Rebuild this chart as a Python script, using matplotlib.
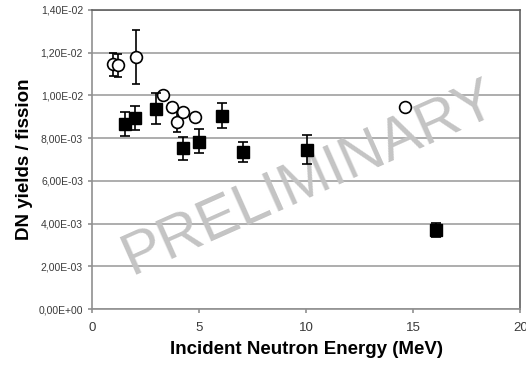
import matplotlib
matplotlib.use("Agg")
import matplotlib.pyplot as plt
from matplotlib.ticker import FuncFormatter

plt.rcParams['font.family'] = ['Liberation Sans', 'DejaVu Sans']

# filled squares: energy, yield, lower/upper error
sq_x = [1.55, 2.0, 3.0, 4.25, 5.0, 6.05, 7.05, 10.05, 16.05]
sq_y = [8.66e-3, 8.95e-3, 9.37e-3, 7.54e-3, 7.82e-3, 9.04e-3, 7.35e-3, 7.45e-3, 3.72e-3]
sq_lo = [0.56e-3, 0.57e-3, 0.71e-3, 0.56e-3, 0.52e-3, 0.56e-3, 0.47e-3, 0.66e-3, 0.35e-3]
sq_hi = [0.54e-3, 0.55e-3, 0.73e-3, 0.52e-3, 0.61e-3, 0.61e-3, 0.47e-3, 0.70e-3, 0.31e-3]

# open circles
ci_x = [1.0, 1.2, 2.05, 3.3, 3.75, 3.95, 4.25, 4.8, 14.6]
ci_y = [1.145e-2, 1.14e-2, 1.18e-2, 1.002e-2, 9.46e-3, 8.76e-3, 9.23e-3, 8.99e-3, 9.46e-3]
ci_err = [0.55e-3, 0.53e-3, 1.27e-3, 0.15e-3, 0.2e-3, 0.47e-3, 0.15e-3, 0.15e-3, 0.0]

fig = plt.figure(figsize=(5.26, 3.65), dpi=100)
ax = fig.add_axes([0.175, 0.153, 0.814, 0.82])

ax.errorbar(ci_x, ci_y, yerr=ci_err, fmt='o', ms=8.5, mfc='white', mec='black',
            mew=1.2, ecolor='black', elinewidth=1.2, capsize=3, capthick=1.2, zorder=3)
ax.errorbar(sq_x, sq_y, yerr=[sq_lo, sq_hi], fmt='s', ms=9, mfc='black', mec='black',
            ecolor='black', elinewidth=1.2, capsize=3.5, capthick=1.2, zorder=4)

ax.set_xlim(0, 20)
ax.set_ylim(0, 0.014)
ax.set_xticks([0, 5, 10, 15, 20])
ax.set_yticks([i * 0.002 for i in range(8)])
ax.yaxis.set_major_formatter(FuncFormatter(lambda v, p: f"{v:.2E}".replace('.', ',')))
ax.grid(True, axis='y', color='#a0a0a0', linewidth=1.2)
ax.set_axisbelow(True)

for s in ['left', 'bottom']:
    ax.spines[s].set_color('#909090')
    ax.spines[s].set_linewidth(1.2)
for s in ['top', 'right']:
    ax.spines[s].set_color('#606060')
    ax.spines[s].set_linewidth(1.2)

ax.tick_params(axis='y', labelsize=7.5, colors='#909090', labelcolor='#3a3a3a', length=3, width=1.2)
ax.tick_params(axis='x', labelsize=9.5, colors='#909090', labelcolor='#3a3a3a', length=3, width=1.2, pad=6)

ax.set_xlabel('Incident Neutron Energy (MeV)', fontsize=13.5, fontweight='bold', labelpad=5)
ax.set_ylabel('DN yields / fission', fontsize=13.5, fontweight='bold', labelpad=4)

# watermark sits above the grid but below the markers
ax.text(0.587, 0.51, 'PRELIMINARY', transform=fig.transFigure, fontsize=43,
        color='#c4c4c4', rotation=24, ha='center', va='center', zorder=2, clip_on=False)

fig.savefig('out.png', dpi=100)
